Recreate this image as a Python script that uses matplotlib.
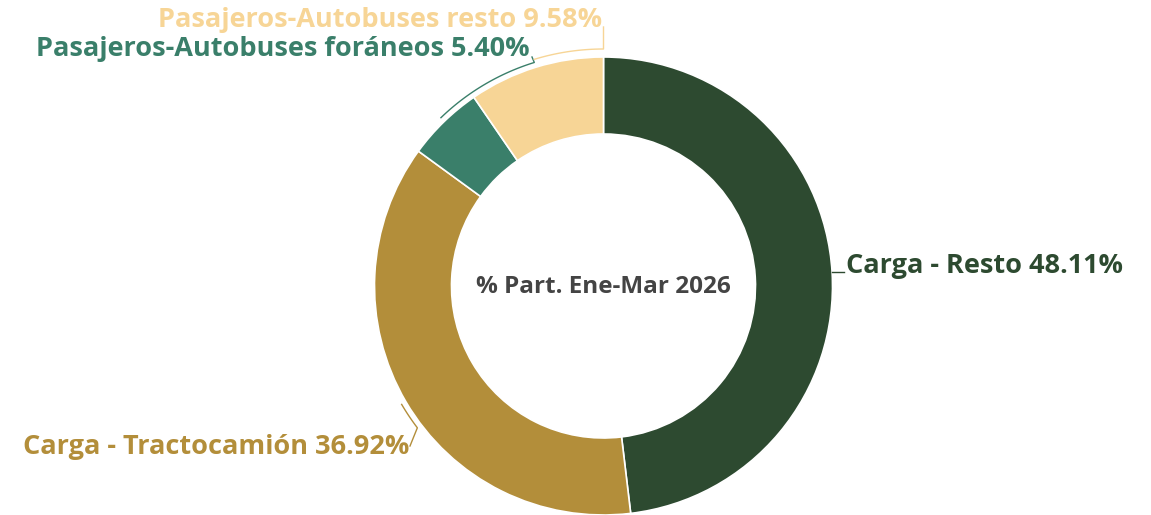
import numpy as np
import matplotlib.pyplot as plt

labels = ["Carga - Resto", "Carga - Tractocamión",
          "Pasajeros-Autobuses foráneos", "Pasajeros-Autobuses resto"]
shares = [48.11, 36.92, 5.40, 9.58]
colors = ["#2d4a30", "#b38e3a", "#3a7f6a", "#f7d596"]
center_text = "% Part. Ene-Mar 2026"

W, H = 1151, 515
cx, cy = 603.5, 515 - 286
R = 229
ring = 77

fig = plt.figure(figsize=(W / 100, H / 100), dpi=100)
ax = fig.add_axes([0, 0, 1, 1])

ax.pie(shares, colors=colors, startangle=90, counterclock=False,
       center=(cx, cy), radius=R, frame=True,
       wedgeprops=dict(width=ring, edgecolor="white", linewidth=1.2))
ax.set_xlim(0, W)
ax.set_ylim(0, H)
ax.set_aspect("equal")
ax.axis("off")

ax.text(cx, cy - 1, center_text, ha="center", va="center", fontsize=17.5,
        fontweight="bold", color="#444444", family="Open Sans")


def arc(a0, a1, r):
    t = np.radians(np.linspace(a0, a1, 30))
    return cx + r * np.cos(t), cy + r * np.sin(t)


font = dict(fontsize=19.5, fontweight="bold", family="Open Sans")

# Carga - Resto
ax.plot([832, 844], [515 - 272, 515 - 272], color=colors[0], lw=1)
ax.text(846, 515 - 266, f"{labels[0]} {shares[0]:.2f}%", ha="left",
        va="center", color=colors[0], **font)

# Carga - Tractocamión
x, y = arc(210.4, 217.3, 234)
ax.plot(list(x) + [410], list(y) + [515 - 446], color=colors[1], lw=1)
ax.text(409, 515 - 447, f"{labels[1]} {shares[1]:.2f}%", ha="right",
        va="center", color=colors[1], **font)

# Pasajeros-Autobuses foráneos
x, y = arc(134, 107.2, 234)
ax.plot(list(x) + [532], list(y) + [515 - 57], color=colors[2], lw=1)
ax.text(530, 515 - 49, f"{labels[2]} {shares[2]:.2f}%", ha="right",
        va="center", color=colors[2], **font)

# Pasajeros-Autobuses resto
x, y = arc(107, 90, 237)
ax.plot(list(x) + [603.5], list(y) + [515 - 27], color=colors[3], lw=1)
ax.text(602, 515 - 20, f"{labels[3]} {shares[3]:.2f}%", ha="right",
        va="center", color=colors[3], **font)

fig.savefig("out.png", dpi=100)
